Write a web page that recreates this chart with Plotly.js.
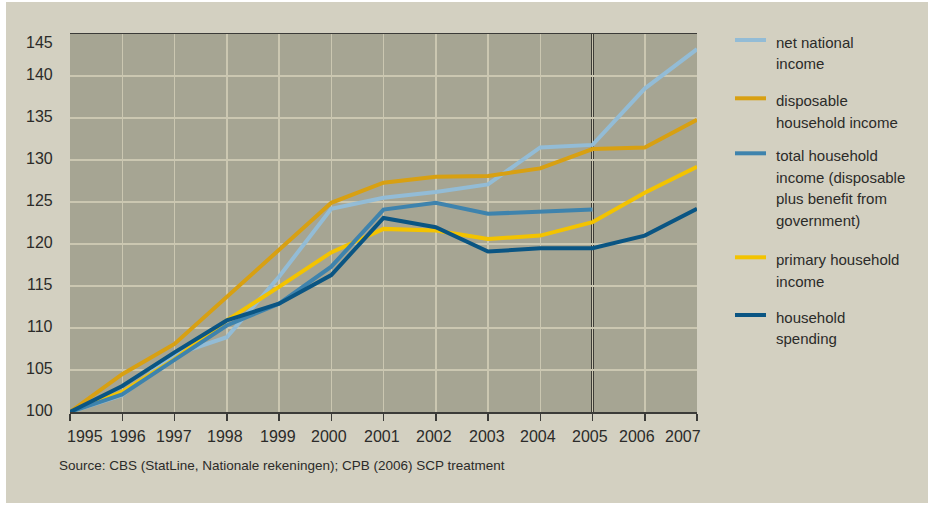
<!DOCTYPE html>
<html>
<head>
<meta charset="utf-8">
<script src="https://cdn.plot.ly/plotly-3.0.1.min.js"></script>
<style>
  html, body { margin: 0; padding: 0; background: #ffffff; }
  #chart { position: absolute; left: 6px; top: 2px; width: 922px; height: 501px; }
</style>
</head>
<body>
<div id="chart"></div>
<script>
// ---- data ----
const years = [1995, 1996, 1997, 1998, 1999, 2000, 2001, 2002, 2003, 2004, 2005, 2006, 2007];
const netNationalIncome = [100, 102.0, 106.8, 108.9, 116.1, 124.2, 125.5, 126.2, 127.1, 131.5, 131.8, 138.5, 143.2];
const disposableHouseholdIncome = [100, 104.5, 108.1, 113.7, 119.2, 124.9, 127.3, 128.0, 128.1, 129.0, 131.3, 131.5, 134.8];
const totalHouseholdIncome = [100, 102.1, 106.2, 110.3, 112.9, 117.3, 124.1, 124.9, 123.6, 123.8, 124.1];
const primaryHouseholdIncome = [100, 102.4, 106.3, 110.9, 114.9, 119.0, 121.8, 121.6, 120.6, 121.0, 122.6, 126.1, 129.2];
const householdSpending = [100, 103.1, 107.1, 110.9, 112.9, 116.3, 123.1, 122.0, 119.1, 119.5, 119.5, 121.0, 124.2];
const yTicks = [100, 105, 110, 115, 120, 125, 130, 135, 140, 145];
const xTickLabels = ["1995", "1996", "1997", "1998", "1999", "2000", "2001", "2002", "2003", "2004", "2005", "2006", "2007"];
const yTickLabels = ["100", "105", "110", "115", "120", "125", "130", "135", "140", "145"];
const seriesNames = [
  ["net national", "income"],
  ["disposable", "household income"],
  ["total household", "income (disposable", "plus benefit from", "government)"],
  ["primary household", "income"],
  ["household", "spending"]
];
const sourceText = "Source: CBS (StatLine, Nationale rekeningen); CPB (2006) SCP treatment";

// ---- styling / layout constants ----
const colors = ['#93bcd6', '#d8a012', '#3e83ad', '#f3c300', '#0a5583'];
const textColor = '#2b2b29';
const fam = '"Liberation Sans", Arial, sans-serif';
const gridColor = '#cbc7b1';
const axisColor = '#3b3b38';

// plot area geometry (div is offset 6px,2px in the page)
const OX = 6, OY = 2;
const M = { l: 64, r: 231, t: 32, b: 91 };
const PW = 922 - M.l - M.r;   // 627
const PH = 501 - M.t - M.b;   // 378
const px2paperX = px => (px - OX - M.l) / PW;
const py2paperY = py => (M.t + PH - (py - OY)) / PH;

// tick label pixel nudges (as set in the original artwork)
const xLabelShift = [15, 6, -1, -2, -1.5, -2, -1.5, -2, -1.5, -2, -3, -7.5, -14];
const yLabelShift = [2, 2, 2, 2, 2, 2, 2, 2, 2, -8];

// legend geometry in page px
const legendSampleY = [40, 98.3, 153.3, 257.3, 315];
const legendLineH = 21.8;

function tr(y, idx) {
  return {
    type: 'scatter', mode: 'lines',
    x: years.slice(0, y.length), y: y,
    name: seriesNames[idx].join(' '),
    line: { color: colors[idx], width: 4 },
    showlegend: false,
    hoverinfo: 'skip'
  };
}

// draw order: light blue, orange, yellow, mid blue, navy
const data = [
  tr(netNationalIncome, 0),
  tr(disposableHouseholdIncome, 1),
  tr(primaryHouseholdIncome, 3),
  tr(totalHouseholdIncome, 2),
  tr(householdSpending, 4)
];

const shapes = [{
  type: 'line', xref: 'x', yref: 'paper',
  x0: 2005, x1: 2005, y0: 0, y1: 1,
  line: { color: '#1c1c1a', width: 2.5 },
  layer: 'between'
}];

const annotations = [];

// x tick labels
years.forEach((yr, i) => {
  annotations.push({
    xref: 'x', yref: 'paper', x: yr, y: py2paperY(436.5),
    xanchor: 'center', yanchor: 'middle', xshift: xLabelShift[i],
    text: xTickLabels[i], showarrow: false,
    font: { family: fam, size: 16, color: textColor }
  });
});
// y tick labels
yTicks.forEach((v, i) => {
  annotations.push({
    xref: 'paper', yref: 'y', x: px2paperX(55), y: v,
    xanchor: 'right', yanchor: 'middle', yshift: yLabelShift[i],
    text: yTickLabels[i], showarrow: false,
    font: { family: fam, size: 16, color: textColor }
  });
});
// legend
seriesNames.forEach((lines, i) => {
  const sy = legendSampleY[i];
  shapes.push({
    type: 'line', xref: 'paper', yref: 'paper',
    x0: px2paperX(735), x1: px2paperX(766),
    y0: py2paperY(sy), y1: py2paperY(sy),
    line: { color: colors[i], width: 4 }
  });
  lines.forEach((t, k) => {
    annotations.push({
      xref: 'paper', yref: 'paper',
      x: px2paperX(774), y: py2paperY(sy + 2 + k * legendLineH),
      xanchor: 'left', yanchor: 'middle',
      text: t, showarrow: false,
      font: { family: fam, size: 15, color: textColor }
    });
  });
});
// source
annotations.push({
  xref: 'paper', yref: 'paper',
  x: px2paperX(57), y: py2paperY(465),
  xanchor: 'left', yanchor: 'middle',
  text: sourceText, showarrow: false,
  font: { family: fam, size: 13.5, color: textColor }
});

const layout = {
  width: 922, height: 501,
  paper_bgcolor: '#d3d0c1',
  plot_bgcolor: '#a6a593',
  margin: { l: M.l, r: M.r, t: M.t, b: M.b, pad: 0 },
  showlegend: false,
  xaxis: {
    range: [1995, 2007],
    tickvals: years,
    showticklabels: false,
    showgrid: true, gridcolor: gridColor, gridwidth: 1.5,
    showline: true, linecolor: axisColor, linewidth: 1.5, mirror: true,
    ticks: 'outside', ticklen: 7, tickwidth: 1.5, tickcolor: axisColor,
    zeroline: false,
    fixedrange: true
  },
  yaxis: {
    range: [100, 145],
    tickvals: yTicks,
    showticklabels: false,
    showgrid: true, gridcolor: gridColor, gridwidth: 1.5,
    showline: false, zeroline: false,
    ticks: '',
    fixedrange: true
  },
  shapes: shapes,
  annotations: annotations
};

Plotly.newPlot('chart', data, layout, { displayModeBar: false, staticPlot: true });
</script>
</body>
</html>
